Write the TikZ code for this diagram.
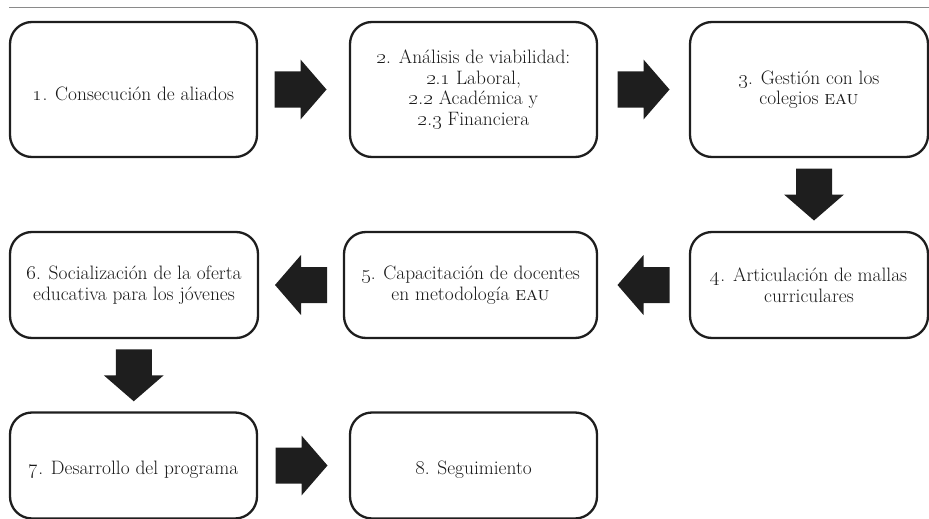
\documentclass[tikz,border=0pt]{standalone}
\usetikzlibrary{calc}
\definecolor{ink}{HTML}{1E1E1E}
\definecolor{txt}{HTML}{1A1A1A}
\definecolor{rulec}{HTML}{8A8A8A}
\newcommand{\osn}[1]{\oldstylenums{#1}}
\begin{document}
\begin{tikzpicture}[x=1pt,y=-1pt,
  box/.style={draw=ink, line width=2.3pt, rounded corners=22pt, fill=white, align=center,
    text=txt, font=\fontsize{19.4}{20.5}\selectfont, inner sep=0pt,
    execute at begin node={\rule{0pt}{22pt}}},
  rowA/.style={minimum height=135pt},
  rowB/.style={minimum height=106pt},
  barrow/.pic={\fill[ink] (-26,-18) -- (0,-18) -- (0,-30) -- (26,0) -- (0,30) -- (0,18) -- (-26,18) -- cycle;}
]
\useasboundingbox (0,0) rectangle (929,519);
\draw[rulec, line width=1pt] (9,8) -- (929,8);

\node[box,rowA,minimum width=247pt] (b1) at (133.5,89.5) {\osn{1}. Consecución de aliados};
\node[box,rowA,minimum width=247pt] (b2) at (473.5,89.5) {\osn{2}. Análisis de viabilidad:\\ \osn{2}.\osn{1} Laboral,\\ \osn{2}.\osn{2} Académica y\\ \osn{2}.\osn{3} Financiera};
\node[box,rowA,minimum width=238pt] (b3) at (809,89.5) {\osn{3}. Gestión con los\\ colegios \textsc{eau}};

\node[box,rowB,minimum width=238pt] (b4) at (809,285) {\osn{4}. Articulación de mallas\\ curriculares};
\node[box,rowB,minimum width=253pt] (b5) at (470.5,285) {\osn{5}. Capacitación de docentes\\ en metodología \textsc{eau}};
\node[box,rowB,minimum width=248pt] (b6) at (134,285) {\osn{6}. Socialización de la oferta\\ educativa para los jóvenes};

\node[box,rowB,minimum width=247pt] (b7) at (133.5,465.5) {\osn{7}. Desarrollo del programa};
\node[box,rowB,minimum width=247pt] (b8) at (473.5,465.5) {\osn{8}. Seguimiento};

\pic at ($(b1.east)!.5!(b2.west)+(-3,0)$) {barrow};
\pic at ($(b2.east)!.5!(b3.west)$) {barrow};
\pic[rotate=-90] at ($(b3.south)!.5!(b4.north)+(5,0)$) {barrow};
\pic[rotate=180] at ($(b4.west)!.5!(b5.east)$) {barrow};
\pic[rotate=180] at ($(b5.west)!.5!(b6.east)$) {barrow};
\pic[rotate=-90] at ($(b6.south)!.5!(b7.north)$) {barrow};
\pic at ($(b7.east)!.5!(b8.west)+(-2,0)$) {barrow};
\end{tikzpicture}
\end{document}
